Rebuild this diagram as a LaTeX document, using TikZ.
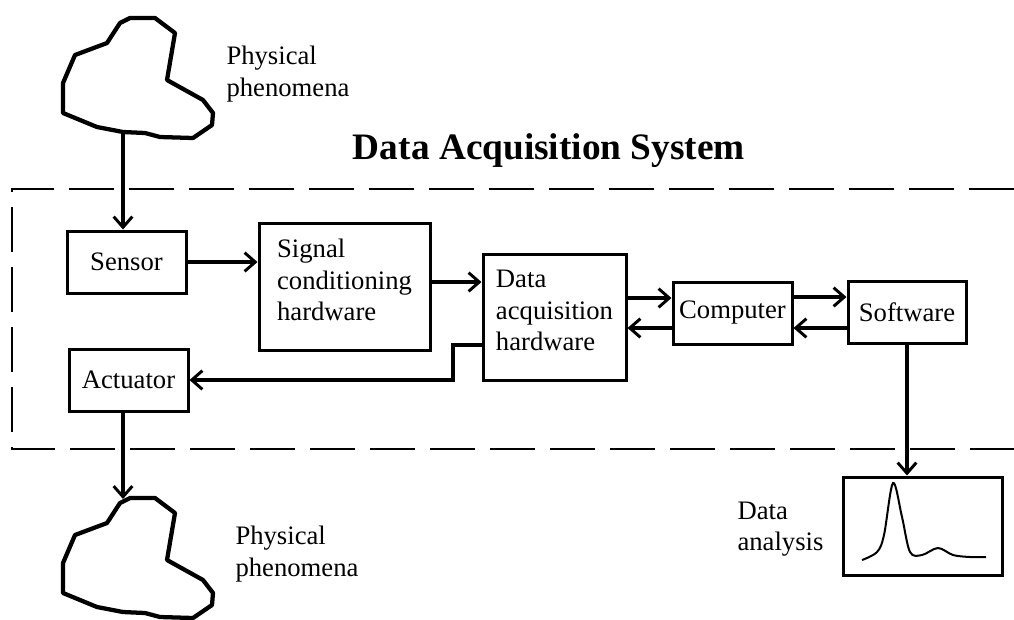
\documentclass[tikz,border=0pt]{standalone}
\usepackage{fontspec}
\setmainfont{Liberation Serif}
\usetikzlibrary{arrows.meta}

\tikzset{every picture/.style={line width=0.75pt}}
\tikzset{
  block/.style={draw, line width=2.25pt, inner sep=0pt, font=\fontsize{20}{23.5}\selectfont},
  conn/.style={line width=3pt, -{Straight Barb[length=8pt,width=14pt,line width=2.2pt]}},
  blob/.style={line width=3.2pt, line join=round},
  note/.style={font=\fontsize{20}{23.5}\selectfont, align=left, anchor=west, inner sep=0pt},
  frame/.style={line width=1.8pt, dash pattern=on 34pt off 11pt}
}

\begin{document}
\begin{tikzpicture}[x=0.75pt,y=0.75pt,yscale=-1,xscale=1]
	\useasboundingbox (0,0) rectangle (1014,619);

	%Shape: Polygon [upper phenomenon]
	\draw [blob] (120,23) -- (130,18) -- (155,18) -- (175,33) -- (167,80) -- (203,100) -- (213,113) -- (212,125) -- (193,138) -- (160,137) -- (145,133) -- (123,132) -- (97,127) -- (63,113) -- (63,83) -- (75,55) -- (107,43) -- cycle ;
	%Shape: Polygon [lower phenomenon]
	\draw [blob] (120,503) -- (130,498) -- (155,498) -- (175,513) -- (167,560) -- (203,580) -- (213,593) -- (212,605) -- (193,618) -- (160,617) -- (145,613) -- (123,612) -- (97,607) -- (63,593) -- (63,563) -- (75,535) -- (107,523) -- cycle ;
	\coordinate (blobtop) at (123,134) ;
	\coordinate (blobbot) at (123,499) ;

	%Shape: Dashed frame
	\draw [frame] (1014,189) -- (12,189) -- (12,449) -- (1014,449) ;

	% Text Node
	\node [font=\fontsize{28}{32}\selectfont\bfseries, anchor=base] (title) at (549,159) {Data Acquisition System};
	% Text Node
	\node [note] (phenin) at (226,74) {Physical\\phenomena};
	% Text Node
	\node [note] (phenout) at (235,554) {Physical\\phenomena};
	% Text Node
	\node [note] (datanote) at (737,529) {Data\\analysis};

	%Shape: Rectangles
	\node [block, minimum width=89.25pt, minimum height=46.5pt] (sensor) at (126.5,262) {Sensor};
	\node [block, align=left, text depth=10pt, minimum width=128.25pt, minimum height=95.25pt] (signal) at (344.5,286.5) {Signal\\conditioning\\hardware};
	\node [block, align=left, text depth=10pt, minimum width=107.25pt, minimum height=94.5pt] (daq) at (554.5,317) {Data\\acquisition\\hardware};
	\node [block, minimum width=89.25pt, minimum height=46.5pt] (computer) at (732.5,313) {Computer};
	\node [block, minimum width=88.5pt, minimum height=46.5pt] (software) at (907,312) {Software};
	\node [block, minimum width=89.25pt, minimum height=46.5pt] (actuator) at (128.5,380) {Actuator};
	\node [block, minimum width=119.25pt, minimum height=73.5pt] (analysis) at (922.5,526) {};

	%Curve: spectrum inside the analysis box
	\draw [line width=1.5pt] plot [smooth, tension=0.55] coordinates {(862,560) (877,552) (884,535) (893,483) (902,517) (910,552) (922,555) (938,548) (953,555) (970,557) (986,557)} ;

	%Straight Lines
	\path (signal.east) ++(0,-4.5) coordinate (g1) ;
	\path (computer.west) ++(0,-15) coordinate (c1) ++(0,30) coordinate (c2) ;
	\path (software.west) ++(0,-15) coordinate (s1) ++(0,31) coordinate (s2) ;
	\path (daq.west) ++(0,28) coordinate (d1) ;

	\draw [conn] (blobtop) -- (blobtop |- sensor.north) ;
	\draw [conn] (sensor.east) -- (sensor.east -| signal.west) ;
	\draw [conn] (g1) -- (g1 -| daq.west) ;
	\draw [conn] (c1 -| daq.east) -- (c1) ;
	\draw [conn] (c2) -- (c2 -| daq.east) ;
	\draw [conn] (s1 -| computer.east) -- (s1) ;
	\draw [conn] (s2) -- (s2 -| computer.east) ;
	\draw [conn] (d1) -- ++(-29,0) |- (actuator.east) ;
	\draw [conn] (software.south) -- (software.south |- analysis.north) ;
	\draw [conn] (blobbot |- actuator.south) -- (blobbot) ;

\end{tikzpicture}
\end{document}
